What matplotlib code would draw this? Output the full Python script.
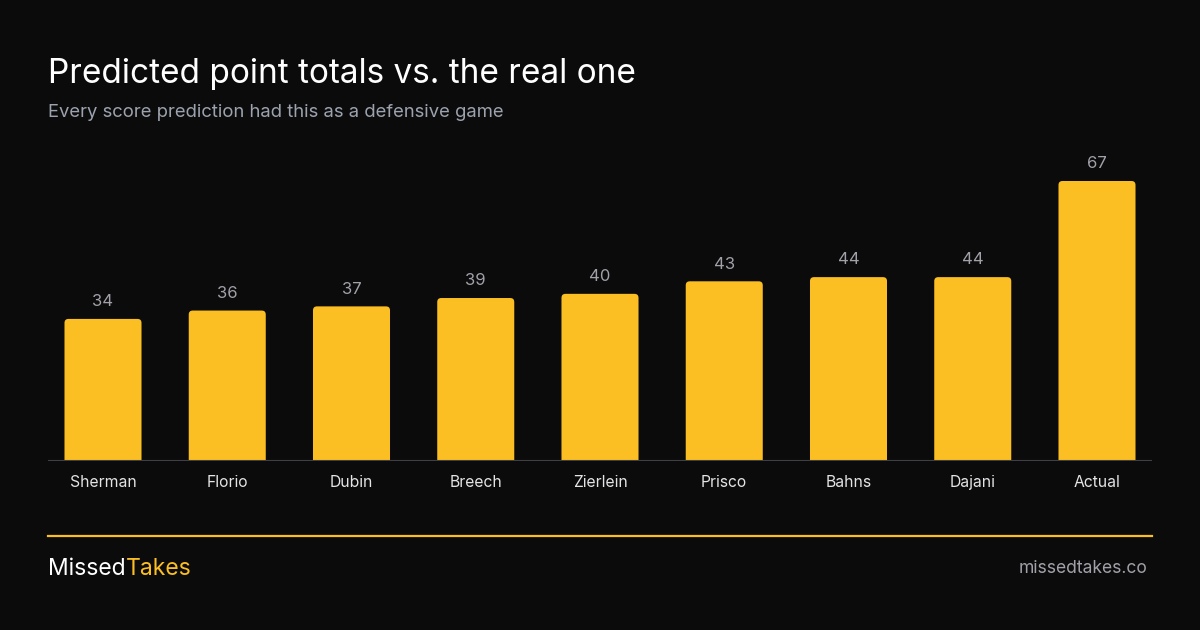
"""Predicted point totals vs. the actual total, MissedTakes style card."""

import matplotlib
matplotlib.use("Agg")
import matplotlib.pyplot as plt
from matplotlib.patches import FancyBboxPatch
from matplotlib.lines import Line2D

names = ["Sherman", "Florio", "Dubin", "Breech", "Zierlein", "Prisco", "Bahns", "Dajani", "Actual"]
points = [34, 36, 37, 39, 40, 43, 44, 44, 67]

BG = "#0b0b0b"
AMBER = "#fbbf24"
W, H = 1200, 630

plt.rcParams["font.family"] = ["Inter", "DejaVu Sans"]

fig = plt.figure(figsize=(W / 100, H / 100), dpi=100, facecolor=BG)

# axes placed in pixel terms: x 48..1152, baseline at y=461
ax_top = 140
ax = fig.add_axes([48 / W, 1 - 461 / H, 1104 / W, (461 - ax_top) / H])
ax.set_facecolor(BG)

band = 124.25
px_per_unit = 280 / 67
ax.set_xlim((48 - 103) / band, (1152 - 103) / band)
ax.set_ylim(0, (461 - ax_top) / px_per_unit)

bar_w = 0.62
rad_px = 4
for i, v in enumerate(points):
    patch = FancyBboxPatch(
        (i - bar_w / 2, -5), bar_w, v + 5,
        boxstyle=f"round,pad=0,rounding_size={rad_px / band}",
        mutation_aspect=band / px_per_unit,
        fc=AMBER, ec="none", zorder=2,
    )
    ax.add_patch(patch)
    ax.annotate(
        str(v), (i, v), xytext=(0, 7), textcoords="offset points",
        ha="center", va="bottom", color="#a1a1aa", fontsize=12,
    )

for s in ax.spines.values():
    s.set_visible(False)
ax.axhline(0, color="#3f3f46", lw=1.5, zorder=3)
ax.set_yticks([])
ax.set_xticks(range(len(names)))
ax.set_xticklabels(names, color="#e4e4e7", fontsize=11.3)
ax.tick_params(axis="x", length=0, pad=10)

# header
fig.text(48 / W, 1 - 83 / H, "Predicted point totals vs. the real one",
         color="white", fontsize=24, ha="left", va="baseline")
fig.text(48 / W, 1 - 117 / H, "Every score prediction had this as a defensive game",
         color="#9ca3af", fontsize=13.3, ha="left", va="baseline")

# footer
fig.add_artist(Line2D([48 / W, 1152 / W], [1 - 536 / H, 1 - 536 / H],
                      color=AMBER, lw=1.6, transform=fig.transFigure))
t = fig.text(48 / W, 1 - 575 / H, "Missed", color="white", fontsize=16.5,
             ha="left", va="baseline")
fig.canvas.draw()
bb = t.get_window_extent()
fig.text(bb.x1 / W, 1 - 575 / H, "Takes", color=AMBER, fontsize=16.5,
         ha="left", va="baseline")
fig.text(1148 / W, 1 - 573 / H, "missedtakes.co", color="#a1a1aa", fontsize=12.6,
         ha="right", va="baseline")

fig.savefig("out.png", dpi=100, facecolor=BG)
